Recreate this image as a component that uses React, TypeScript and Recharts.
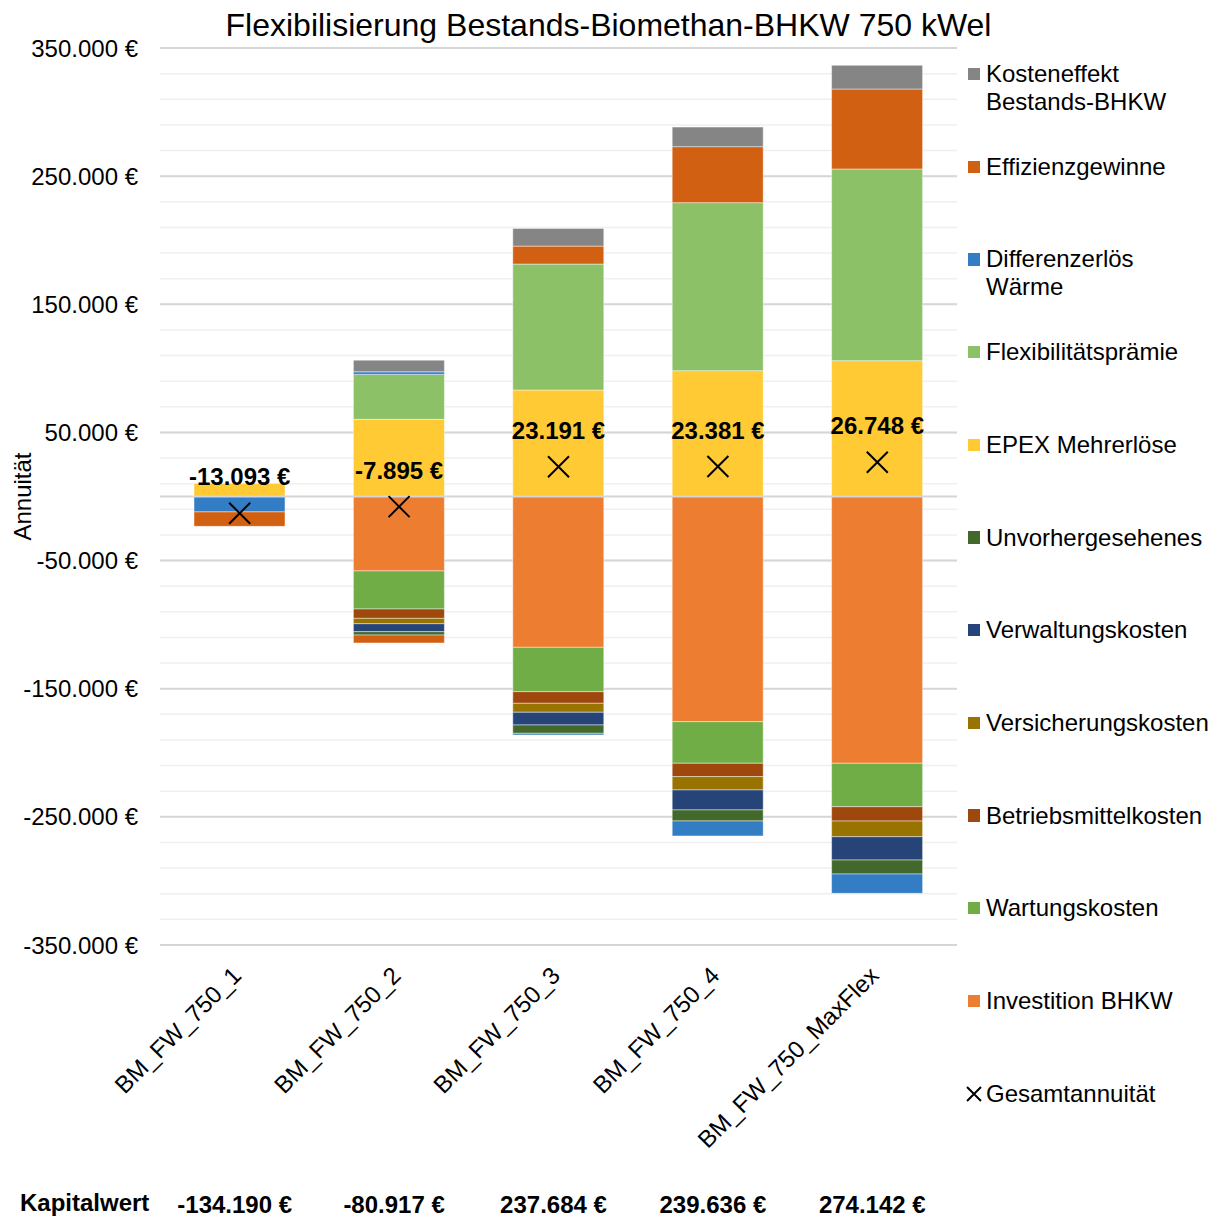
import React from 'react';
import {
  ComposedChart,
  Bar,
  Line,
  XAxis,
  YAxis,
  CartesianGrid,
  ReferenceLine,
  Legend,
  LabelList,
  Label,
} from 'recharts';

const FONT = '"Liberation Sans", Arial, Helvetica, sans-serif';

// ---- data ----
const categories = ['BM_FW_750_1', 'BM_FW_750_2', 'BM_FW_750_3', 'BM_FW_750_4', 'BM_FW_750_MaxFlex'];
const investitionBHKW = [0, -58100, -117700, -175700, -208200];
const wartungskosten = [0, -29700, -34600, -32500, -33900];
const betriebsmittelkosten = [0, -7300, -9100, -10400, -11200];
const versicherungskosten = [0, -4200, -7000, -10400, -12200];
const verwaltungskosten = [0, -6200, -9900, -15600, -18200];
const unvorhergesehenes = [0, -2600, -6500, -8600, -10900];
const epexMehrerloese = [10200, 60200, 83100, 98200, 106000];
const flexibilitaetspraemie = [0, 35100, 98300, 131100, 149600];
const differenzerloesWaerme = [-12000, 2000, -1300, -11700, -15100];
const effizienzgewinne = [-11300, -6200, 14000, 43700, 62400];
const kosteneffektBestand = [0, 9100, 13800, 15300, 18500];
const gesamtannuitaet = [-13093, -7895, 23191, 23381, 26748];
const kapitalwert = ['-134.190 €', '-80.917 €', '237.684 €', '239.636 €', '274.142 €'];

const yLabelTicks = [350000, 250000, 150000, 50000, -50000, -150000, -250000, -350000];
const yGridTicks = Array.from({ length: 36 }, (_, i) => -350000 + i * 20000);

// series in stacking order (bottom -> top)
const series = [
  { key: 'inv', name: 'Investition BHKW', color: '#ED7D31', values: investitionBHKW },
  { key: 'wart', name: 'Wartungskosten', color: '#70AD47', values: wartungskosten },
  { key: 'betr', name: 'Betriebsmittelkosten', color: '#9E480E', values: betriebsmittelkosten },
  { key: 'vers', name: 'Versicherungskosten', color: '#997300', values: versicherungskosten },
  { key: 'verw', name: 'Verwaltungskosten', color: '#264478', values: verwaltungskosten },
  { key: 'unv', name: 'Unvorhergesehenes', color: '#43682B', values: unvorhergesehenes },
  { key: 'epex', name: 'EPEX Mehrerlöse', color: '#FFCA33', values: epexMehrerloese },
  { key: 'flex', name: 'Flexibilitätsprämie', color: '#8CC168', values: flexibilitaetspraemie },
  { key: 'diff', name: 'Differenzerlös Wärme', color: '#327DC3', values: differenzerloesWaerme },
  { key: 'eff', name: 'Effizienzgewinne', color: '#D26012', values: effizienzgewinne },
  { key: 'kost', name: 'Kosteneffekt Bestands-BHKW', color: '#858585', values: kosteneffektBestand },
];

const data = categories.map((name, i) => {
  const row: Record<string, any> = { name, gesamt: gesamtannuitaet[i] };
  series.forEach((s) => {
    row[s.key] = s.values[i];
  });
  return row;
});

const fmtEuro = (v: number) => {
  const s = Math.abs(Math.round(v))
    .toString()
    .replace(/\B(?=(\d{3})+(?!\d))/g, '.');
  return (v < 0 ? '-' : '') + s + ' €';
};

const yTickFormatter = (v: number) => (yLabelTicks.includes(v) ? fmtEuro(v) : '');

const CategoryTick = (props: any) => {
  const { x, y, payload } = props;
  const idx = categories.indexOf(payload.value);
  const ax = x + 3;
  const ay = y + 30;
  return (
    <g>
      <text
        x={ax}
        y={ay}
        transform={`rotate(-45, ${ax}, ${ay})`}
        textAnchor="end"
        fontSize={24}
        fill="#000"
        fontFamily={FONT}
      >
        {payload.value}
      </text>
      <text
        x={x - 5}
        y={y + 266}
        textAnchor="middle"
        fontSize={24}
        fontWeight="bold"
        fill="#000"
        fontFamily={FONT}
      >
        {kapitalwert[idx]}
      </text>
    </g>
  );
};

const XDot = (props: any) => {
  const { cx, cy } = props;
  if (cx == null || cy == null) return <g />;
  const r = 10.5;
  return (
    <path
      d={`M${cx - r},${cy - r}L${cx + r},${cy + r}M${cx + r},${cy - r}L${cx - r},${cy + r}`}
      stroke="#000"
      strokeWidth={2}
      fill="none"
    />
  );
};

const GesamtLabel = (props: any) => {
  const { x, y, value } = props;
  if (x == null || y == null) return null;
  return (
    <text
      x={x}
      y={y - 28}
      textAnchor="middle"
      fontSize={24}
      fontWeight="bold"
      fill="#000"
      fontFamily={FONT}
    >
      {fmtEuro(Number(value))}
    </text>
  );
};

const legendItems = [
  ...series
    .slice()
    .reverse()
    .map((s) => ({ name: s.name, color: s.color, marker: 'square' })),
  { name: 'Gesamtannuität', color: '#000', marker: 'x' },
];

const LegendContent = () => (
  <div
    style={{
      position: 'relative',
      width: 255,
      height: 1070,
      fontFamily: FONT,
      fontSize: 24,
      color: '#000',
    }}
  >
    {legendItems.map((it, i) => {
      const c = 19 + i * 92.7;
      return (
        <div key={it.name}>
          {it.marker === 'square' ? (
            <div
              style={{
                position: 'absolute',
                left: 6,
                top: c - 6.2,
                width: 12.4,
                height: 12.4,
                background: it.color,
              }}
            />
          ) : (
            <svg
              style={{ position: 'absolute', left: 4, top: c - 8 }}
              width={16}
              height={16}
            >
              <path d="M1,1L15,15M15,1L1,15" stroke="#000" strokeWidth={2} />
            </svg>
          )}
          <div
            style={{
              position: 'absolute',
              left: 24,
              top: c - 14,
              width: 229,
              lineHeight: '28px',
            }}
          >
            {it.name}
          </div>
        </div>
      );
    })}
  </div>
);

export default function App() {
  return (
    <div
      style={{
        position: 'absolute',
        left: 0,
        top: 0,
        width: 1217,
        height: 1217,
        background: '#fff',
        fontFamily: FONT,
      }}
    >
      <div
        style={{
          position: 'absolute',
          left: 0,
          top: 7,
          width: 1217,
          textAlign: 'center',
          fontSize: 32,
          lineHeight: '36px',
          color: '#000',
          zIndex: 2,
        }}
      >
        Flexibilisierung Bestands-Biomethan-BHKW 750 kWel
      </div>
      <ComposedChart
        width={1217}
        height={1217}
        data={data}
        stackOffset="sign"
        margin={{ top: 48, right: 260, bottom: 0, left: 0 }}
      >
        <CartesianGrid vertical={false} stroke="#EFEFEF" strokeWidth={1.5} />
        {yLabelTicks.map((v) => (
          <ReferenceLine key={v} y={v} stroke="#D6D6D6" strokeWidth={2} zIndex={0} />
        ))}
        <XAxis
          dataKey="name"
          height={272}
          tickSize={0}
          tickLine={false}
          axisLine={false}
          interval={0}
          tick={<CategoryTick />}
        >
          <Label
            content={(p: any) => {
              const vb = p.viewBox || { x: 160, y: 945 };
              return (
                <text
                  x={vb.x - 140}
                  y={vb.y + 266}
                  fontSize={24}
                  fontWeight="bold"
                  fill="#000"
                  fontFamily={FONT}
                >
                  Kapitalwert
                </text>
              );
            }}
          />
        </XAxis>
        <YAxis
          width={160}
          domain={[-350000, 350000]}
          ticks={yGridTicks}
          interval={0}
          allowDataOverflow
          tickFormatter={yTickFormatter}
          tickLine={false}
          axisLine={false}
          tickSize={0}
          tickMargin={22}
          tick={{ fill: '#000', fontSize: 24, fontFamily: FONT }}
        >
          <Label
            content={(p: any) => {
              const vb = p.viewBox || { x: 0, y: 48, height: 897 };
              const cx = vb.x + 22;
              const cy = vb.y + vb.height / 2;
              return (
                <text
                  x={cx}
                  y={cy}
                  transform={`rotate(-90, ${cx}, ${cy})`}
                  textAnchor="middle"
                  dominantBaseline="central"
                  fontSize={24}
                  fill="#000"
                  fontFamily={FONT}
                >
                  Annuität
                </text>
              );
            }}
          />
        </YAxis>
        {series.map((s) => (
          <Bar
            key={s.key}
            dataKey={s.key}
            name={s.name}
            stackId="a"
            fill={s.color}
            stroke="#FFFFFF"
            strokeOpacity={0.45}
            strokeWidth={1}
            barSize={91}
            isAnimationActive={false}
          />
        ))}
        <ReferenceLine y={0} stroke="#D6D6D6" strokeWidth={2} />
        <Line
          dataKey="gesamt"
          name="Gesamtannuität"
          stroke="none"
          dot={<XDot />}
          activeDot={false}
          isAnimationActive={false}
        >
          <LabelList dataKey="gesamt" content={<GesamtLabel />} />
        </Line>
        <Legend
          layout="vertical"
          align="center"
          verticalAlign="middle"
          content={<LegendContent />}
          wrapperStyle={{ left: 962, top: 55, width: 255, height: 1070 }}
        />
      </ComposedChart>
    </div>
  );
}
